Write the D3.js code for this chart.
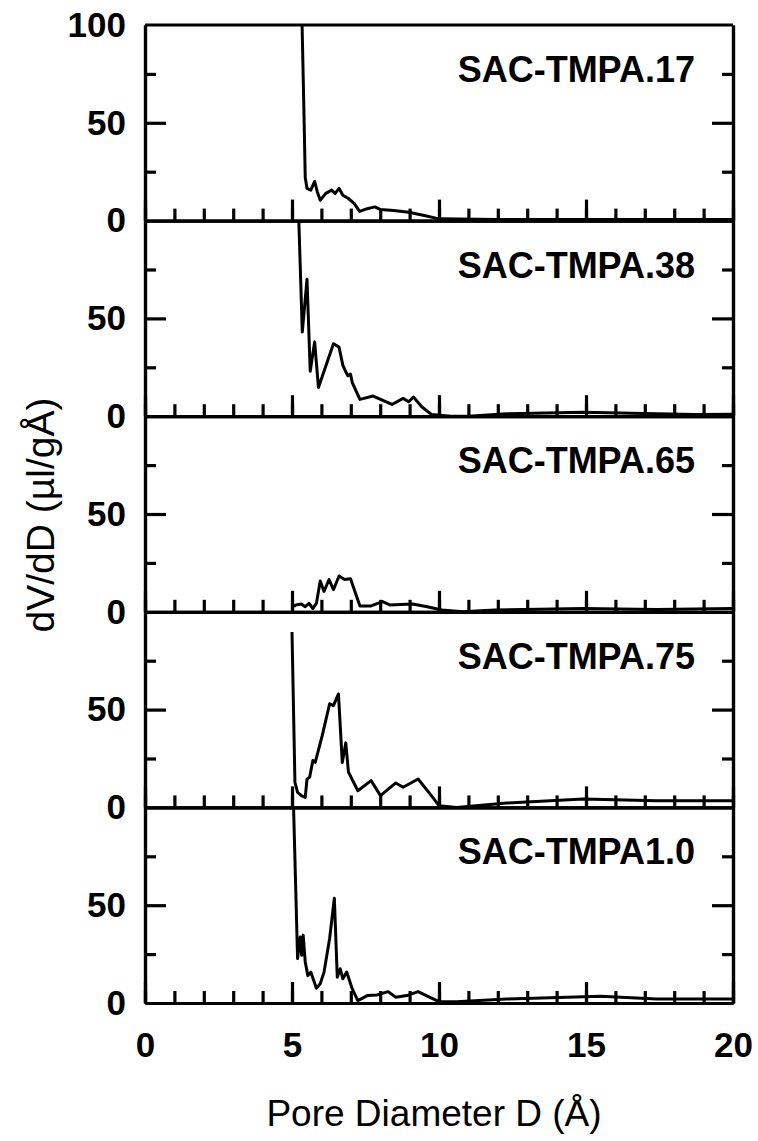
<!DOCTYPE html>
<html>
<head>
<meta charset="utf-8">
<script src="https://cdn.jsdelivr.net/npm/d3@7"></script>
<style>
  body { margin: 0; background: #fff; }
  svg { display: block; }
  .axis path, .axis line { stroke: #000; stroke-width: 3.2; }
  .axis text { font-family: "Liberation Sans", Arial, sans-serif; font-weight: bold; font-size: 35px; fill: #000; }
  .curve { fill: none; stroke: #000; stroke-width: 3; stroke-linejoin: round; }
  .panel-label, .title { font-family: "Liberation Sans", Arial, sans-serif; fill: #000; }
</style>
</head>
<body>
<div id="chart"></div>
<script>
// panel names, top to bottom
const panelNames = ["SAC-TMPA.17", "SAC-TMPA.38", "SAC-TMPA.65", "SAC-TMPA.75", "SAC-TMPA1.0"];

// pore diameter D (Å) and dV/dD (µl/gÅ)
const d17 = [
  [5.30, 130], [5.41, 53], [5.45, 22], [5.51, 16.5], [5.64, 15.6], [5.77, 20], [5.86, 14.8], [5.96, 10.4],
  [6.15, 13.9], [6.35, 15.6], [6.47, 13.9], [6.60, 16.5], [6.73, 13], [6.92, 11.3], [7.12, 8.7], [7.30, 4.7],
  [7.56, 6.1], [7.82, 7], [8.0, 5.7], [8.46, 5.2], [8.97, 4.3], [9.5, 2.6], [10.0, 0.9], [12, 0.5], [16, 0.5], [20, 0.5]
];
const d38 = [
  [5.17, 130], [5.35, 43], [5.51, 70], [5.62, 23], [5.77, 38], [5.90, 14.7], [6.41, 37], [6.60, 35.3],
  [6.73, 26], [6.82, 23], [6.90, 20.7], [6.99, 21.5], [7.05, 17.2], [7.31, 8.6], [7.76, 10.3], [8.4, 6],
  [8.78, 9.1], [8.97, 7.4], [9.13, 9.8], [9.42, 4.7], [9.74, 0.9], [10.4, 0], [11, 0], [12.3, 1.2],
  [14.9, 2], [18.7, 0.9], [20, 1]
];
const d65 = [
  [5.06, 2.6], [5.13, 3.5], [5.32, 4], [5.45, 2.6], [5.58, 4.3], [5.71, 1.7], [5.83, 4.3], [5.96, 15.7],
  [6.09, 10.4], [6.26, 16.5], [6.41, 11.3], [6.60, 18.3], [6.79, 16.5], [6.99, 16.9], [7.31, 3], [7.69, 3],
  [8.08, 5.2], [8.33, 3.5], [9.1, 4], [9.6, 2.6], [10.1, 0.9], [10.8, 0], [11.9, 0.9], [14.9, 1.7],
  [17.4, 1.2], [20, 1.7]
];
const d75 = [
  [5.0, 89.7], [5.1, 12.8], [5.19, 7.7], [5.32, 6], [5.45, 5.1], [5.51, 14.5], [5.6, 15.4], [5.71, 24],
  [5.79, 23], [6.03, 36.8], [6.28, 53], [6.41, 52], [6.58, 58], [6.71, 23], [6.83, 33], [6.92, 18],
  [7.24, 8.5], [7.69, 13.7], [8.01, 6], [8.53, 12.5], [8.78, 10.3], [9.29, 14.5], [9.74, 6], [10.0, 0.9],
  [10.6, 0], [12.3, 2.2], [14.9, 4.3], [17.4, 3.4], [20, 3.4]
];
const d100 = [
  [5.0, 130], [5.19, 22.7], [5.28, 33.8], [5.33, 24.4], [5.38, 34.7], [5.45, 21], [5.54, 14], [5.64, 15.8],
  [5.83, 7.6], [5.96, 9.8], [6.09, 15.8], [6.28, 33], [6.44, 53.6], [6.54, 13.2], [6.64, 17.5], [6.73, 12.4],
  [6.86, 15.8], [7.05, 7.2], [7.24, 1.2], [7.56, 3.8], [7.88, 4.1], [8.27, 5.8], [8.53, 2.9], [8.91, 3.8],
  [9.29, 5.8], [9.62, 3.4], [10.0, 0.7], [10.6, 0.7], [12.3, 2], [15.5, 3.4], [17.4, 2], [20, 2]
];
const panelData = [d17, d38, d65, d75, d100];

const xTickLabels = [0, 5, 10, 15, 20];
const yTickLabels = [0, 50, 100];

const width = 758, height = 1141;
const margin = {left: 145, top: 25};
const plotW = 588, panelH = 195.6;

const svg = d3.select("#chart").append("svg")
  .attr("width", width)
  .attr("height", height);

const x = d3.scaleLinear().domain([0, 20]).range([0, plotW]);
const y = d3.scaleLinear().domain([0, 100]).range([panelH, 0]);

const line = d3.line()
  .x(d => x(d[0]))
  .y(d => y(d[1]));

panelData.forEach((data, i) => {
  const g = svg.append("g")
    .attr("transform", `translate(${margin.left},${margin.top + i * panelH})`);

  g.append("clipPath").attr("id", "clip" + i)
    .append("rect").attr("width", plotW).attr("height", panelH);

  // curve
  g.append("path")
    .datum(data)
    .attr("class", "curve")
    .attr("clip-path", `url(#clip${i})`)
    .attr("d", line);

  // minor ticks on x (every 1 Å), major at every 5
  g.append("g").attr("class", "axis")
    .attr("transform", `translate(0,${panelH})`)
    .call(d3.axisBottom(x).tickValues(d3.range(0, 21, 1)).tickSize(-12).tickSizeOuter(0).tickFormat(""));
  g.append("g").attr("class", "axis")
    .attr("transform", `translate(0,${panelH})`)
    .call(d3.axisBottom(x).tickValues(xTickLabels).tickSize(-21).tickSizeOuter(0).tickPadding(29)
      .tickFormat(i === panelData.length - 1 ? d3.format("d") : ""));

  // left y axis
  const labels = i === 0 ? yTickLabels : yTickLabels.slice(0, 2);
  g.append("g").attr("class", "axis")
    .call(d3.axisLeft(y).tickValues([25, 75]).tickSize(-11).tickSizeOuter(0).tickFormat(""));
  g.append("g").attr("class", "axis")
    .call(d3.axisLeft(y).tickValues([50]).tickSize(-21).tickSizeOuter(0).tickFormat(""));
  g.append("g").attr("class", "axis")
    .call(d3.axisLeft(y).tickValues(labels).tickSize(0).tickSizeOuter(0).tickPadding(19))
    .select(".domain").remove();

  // right y axis
  g.append("g").attr("class", "axis")
    .attr("transform", `translate(${plotW},0)`)
    .call(d3.axisRight(y).tickValues([25, 75]).tickSize(-11).tickSizeOuter(0).tickFormat(""));
  g.append("g").attr("class", "axis")
    .attr("transform", `translate(${plotW},0)`)
    .call(d3.axisRight(y).tickValues([50]).tickSize(-21).tickSizeOuter(0).tickFormat(""));

  if (i === 0) {
    g.append("line")
      .attr("x1", 0).attr("x2", plotW).attr("y1", 0).attr("y2", 0)
      .attr("stroke", "#000").attr("stroke-width", 3.2);
  }

  g.append("text")
    .attr("class", "panel-label")
    .attr("x", plotW - 38)
    .attr("y", 57)
    .attr("text-anchor", "end")
    .style("font-size", "36px")
    .style("font-weight", "bold")
    .text(panelNames[i]);
});

// axis titles
svg.append("text")
  .attr("class", "title")
  .attr("x", margin.left + plotW / 2 - 5)
  .attr("y", 1126)
  .attr("text-anchor", "middle")
  .style("font-size", "37px")
  .text("Pore Diameter D (Å)");

svg.append("text")
  .attr("class", "title")
  .attr("transform", `translate(54,515) rotate(-90)`)
  .attr("text-anchor", "middle")
  .style("font-size", "39px")
  .text("dV/dD (µl/gÅ)");
</script>
</body>
</html>
